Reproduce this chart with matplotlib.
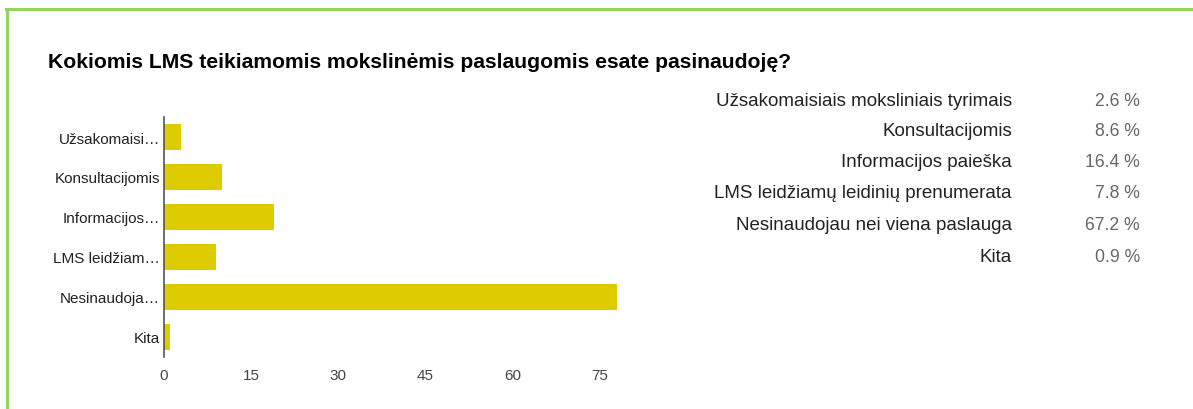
import numpy as np
import matplotlib.pyplot as plt
from matplotlib.lines import Line2D

plt.rcParams['font.family'] = ['Liberation Sans', 'DejaVu Sans']

categories = ['Užsakomaisiais moksliniais tyrimais', 'Konsultacijomis',
              'Informacijos paieška', 'LMS leidžiamų leidinių prenumerata',
              'Nesinaudojau nei viena paslauga', 'Kita']
short_labels = ['Užsakomaisi…', 'Konsultacijomis', 'Informacijos…',
                'LMS leidžiam…', 'Nesinaudoja…', 'Kita']
counts = [3, 10, 19, 9, 78, 1]
percents = [2.6, 8.6, 16.4, 7.8, 67.2, 0.9]
xticks = [0, 15, 30, 45, 60, 75]

W, H = 1193, 410
fig = plt.figure(figsize=(W / 100, H / 100), dpi=100)

# green frame (top + left only)
fig.add_artist(Line2D([6 / W, 1], [1 - 10 / H, 1 - 10 / H], color='#8fd65a', lw=2.2))
fig.add_artist(Line2D([7 / W, 7 / W], [0, 1 - 10 / H], color='#8fd65a', lw=2.2))

fig.text(48 / W, 1 - 63 / H, 'Kokiomis LMS teikiamomis mokslinėmis paslaugomis esate pasinaudoję?',
         fontsize=15.2, fontweight='bold', color='#000000', va='center', ha='left')

ax = fig.add_axes([164 / W, 1 - 358 / H, 465 / W, 240 / H])
y = np.arange(len(categories))
ax.barh(y, counts, height=0.67, color='#dccc00')
ax.set_xlim(0, 80)
ax.set_ylim(len(categories) - 0.5, -0.5)
ax.set_yticks(y)
ax.set_yticklabels(short_labels, fontsize=11, color='#222222')
ax.set_xticks(xticks)
ax.set_xticklabels([str(t) for t in xticks], fontsize=11, color='#444444')
ax.tick_params(axis='both', length=0)
ax.tick_params(axis='y', pad=3)
ax.tick_params(axis='x', pad=8)
for s in ['top', 'right', 'bottom']:
    ax.spines[s].set_visible(False)
ax.spines['left'].set_color('#555555')
ax.spines['left'].set_linewidth(1.2)

# summary table on the right
row_y = [101, 132, 163, 194, 226, 257]
for cat, pct, ry in zip(categories, percents, row_y):
    fig.text(1012 / W, 1 - ry / H, cat, fontsize=13.5, color='#222222', ha='right', va='center')
    fig.text(1140 / W, 1 - ry / H, f'{pct} %', fontsize=12.7, color='#666666', ha='right', va='center')

plt.savefig('out.png', dpi=100)
